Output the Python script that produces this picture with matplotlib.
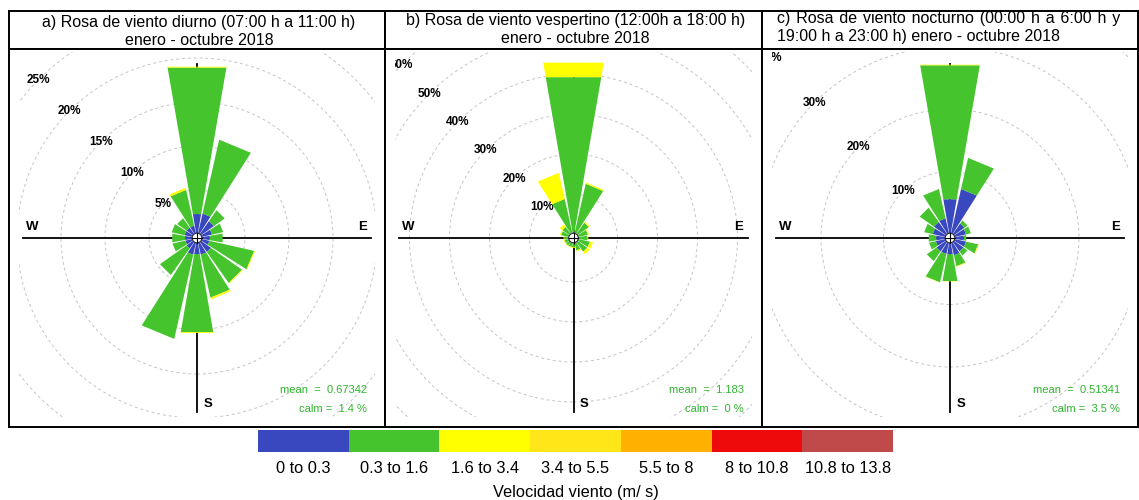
import numpy as np
import matplotlib
matplotlib.use("Agg")
import matplotlib.pyplot as plt
from matplotlib.patches import Circle, Polygon, Rectangle
from matplotlib.transforms import Bbox, TransformedBbox

plt.rcParams['font.family'] = ['Liberation Sans', 'DejaVu Sans']

W, H = 1139, 500

# 16 direction sectors, bearings clockwise from north
directions = ['N', 'NNE', 'NE', 'ENE', 'E', 'ESE', 'SE', 'SSE',
              'S', 'SSW', 'SW', 'WSW', 'W', 'WNW', 'NW', 'NNW']
bearings = np.arange(16) * 22.5

speed_bins = ['0 to 0.3', '0.3 to 1.6', '1.6 to 3.4', '3.4 to 5.5',
              '5.5 to 8', '8 to 10.8', '10.8 to 13.8']
bin_colors = ['#3A48C0', '#45C42E', '#FFFF00', '#FFE619',
              '#FFB000', '#EE0A0A', '#C04A4A']

# frequency (%) per direction for the three populated speed bins
a_b0 = [2.3, 2.4, 1.9, 1.3, 1.0, 1.0, 1.5, 1.5, 1.4, 1.5, 1.0, 0.9, 0.9, 1.0, 1.0, 1.0]
a_b1 = [16.9, 8.6, 1.5, 1.3, 1.5, 5.2, 4.3, 5.0, 9.0, 9.8, 3.7, 1.5, 1.5, 1.5, 1.3, 4.15]
a_b2 = [0.1, 0.0, 0.0, 0.0, 0.0, 0.1, 0.1, 0.2, 0.1, 0.0, 0.0, 0.0, 0.0, 0.0, 0.0, 0.25]

b_b0 = [0.4, 0.4, 0.3, 0.3, 0.3, 0.3, 0.3, 0.3, 0.3, 0.3, 0.3, 0.3, 0.3, 0.3, 0.3, 0.4]
b_b1 = [39.4, 12.5, 3.4, 2.4, 2.2, 2.9, 2.9, 1.9, 1.0, 1.0, 1.0, 1.0, 1.0, 1.9, 2.1, 8.6]
b_b2 = [3.7, 0.3, 0.3, 0.3, 0.25, 0.8, 0.8, 0.3, 0.2, 0.2, 0.2, 0.2, 0.2, 0.3, 0.8, 6.7]

c_b0 = [5.65, 7.4, 2.2, 2.0, 1.6, 2.0, 2.0, 2.2, 2.0, 2.0, 2.0, 1.7, 1.6, 2.2, 2.5, 2.6]
c_b1 = [21.75, 5.1, 0.6, 0.8, 0.4, 2.0, 0.8, 1.8, 4.35, 4.65, 1.9, 1.1, 1.2, 1.4, 2.8, 4.8]
c_b2 = [0.1, 0.0, 0.0, 0.0, 0.0, 0.1, 0.0, 0.1, 0.05, 0.05, 0.0, 0.0, 0.0, 0.0, 0.0, 0.0]

panels = [
    dict(box=(9, 385), title=['a) Rosa de viento diurno (07:00 h a 11:00 h)',
                              'enero - octubre 2018'], align='center', ty=(27, 45),
         freq=[a_b0, a_b1, a_b2], rings=[5, 10, 15, 20, 25], scale=8.8,
         mean='mean  =  0.67342', calm='calm =  1.4 %'),
    dict(box=(385, 762), title=['b) Rosa de viento vespertino (12:00h a 18:00 h)',
                                'enero - octubre 2018'], align='center', ty=(25.5, 43),
         freq=[b_b0, b_b1, b_b2], rings=[10, 20, 30, 40, 50, 60], scale=4.0,
         mean='mean  =  1.183', calm='calm =  0 %'),
    dict(box=(762, 1138), title=['c) Rosa de viento nocturno (00:00 h a 6:00 h y',
                                 '19:00 h a 23:00 h) enero - octubre 2018'], align='left',
         ty=(23.5, 41.5), freq=[c_b0, c_b1, c_b2], rings=[10, 20, 30, 40], scale=6.25,
         mean='mean  =  0.51341', calm='calm =  3.5 %'),
]

HEAD_TOP, HEAD_BOT, PLOT_BOT = 11, 49, 427
HOLE_PX = 4.0
HALF_WIDTH = 9.8
LABEL_BEARING = 315.0
CLIP_SIDE, CLIP_TOP = 10, 3
TEXT_GREEN = '#2DB52D'
TITLE_SIZE = 11.5
WIDE_GAP = ' \u200a'   # word gap used for the spread-out first title line

fig = plt.figure(figsize=(W / 100, H / 100), dpi=100)


def px_axes(x0, y0, x1, y1):
    return fig.add_axes([x0 / W, 1 - y1 / H, (x1 - x0) / W, (y1 - y0) / H])


def fig_text(x, y, s, **kw):
    return fig.text(x / W, 1 - y / H, s, **kw)


def xy(r, brg):
    t = np.deg2rad(brg)
    return r * np.sin(t), r * np.cos(t)


for p in panels:
    x0, x1 = p['box']
    # header box
    hx = px_axes(x0, HEAD_TOP, x1, HEAD_BOT)
    hx.set_xticks([]); hx.set_yticks([])
    for s in hx.spines.values():
        s.set_linewidth(1.4)
    if p['align'] == 'center':
        xc = (x0 + x1) / 2 + 2
        fig_text(xc, p['ty'][0], p['title'][0], ha='center', va='baseline', fontsize=TITLE_SIZE)
        fig_text(xc, p['ty'][1], p['title'][1], ha='center', va='baseline', fontsize=TITLE_SIZE)
    else:
        fig_text(x0 + 15, p['ty'][0], WIDE_GAP.join(p['title'][0].split(' ')),
                 ha='left', va='baseline', fontsize=TITLE_SIZE)
        fig_text(x0 + 15, p['ty'][1], p['title'][1], ha='left', va='baseline', fontsize=TITLE_SIZE)

    # rose panel in percent units
    ax = px_axes(x0, HEAD_BOT, x1, PLOT_BOT)
    k = p['scale']
    wpx, hpx = x1 - x0, PLOT_BOT - HEAD_BOT
    ax.set_xlim(-wpx / 2 / k, wpx / 2 / k)
    ax.set_ylim(-hpx / 2 / k, hpx / 2 / k)
    ax.set_xticks([]); ax.set_yticks([])
    for s in ax.spines.values():
        s.set_linewidth(1.4)
    off = HOLE_PX / k

    # inner drawing region used to clip the scale rings and their labels
    fx0, fx1 = CLIP_SIDE / wpx, 1 - CLIP_SIDE / wpx
    fy0, fy1 = CLIP_SIDE / hpx, 1 - CLIP_TOP / hpx
    clip = Rectangle((fx0, fy0), fx1 - fx0, fy1 - fy0, transform=ax.transAxes, visible=False)
    ax.add_patch(clip)
    clip_box = TransformedBbox(Bbox([[fx0, fy0], [fx1, fy1]]), ax.transAxes)

    for rv in p['rings']:
        ring = Circle((0, 0), off + rv, fill=False, ec='#C4C4C4', lw=0.7,
                      ls=(0, (3, 3)), zorder=1)
        ax.add_patch(ring)
        ring.set_clip_path(clip)
        lx, ly = xy(off + rv, LABEL_BEARING)
        t = ax.text(lx, ly, f'{rv}%', ha='center', va='center', fontsize=8.5,
                    fontweight='bold', zorder=2)
        t.set_clip_on(True)
        t.set_clip_box(clip_box)

    ax.axhline(0, xmin=0.037, xmax=0.963, color='black', lw=1.3, zorder=2)
    ax.axvline(0, ymin=0.04, ymax=0.96, color='black', lw=1.3, zorder=2)

    freq = np.array(p['freq'])
    cum = np.vstack([np.zeros(16), np.cumsum(freq, axis=0)])
    for i, brg in enumerate(bearings):
        for j in range(freq.shape[0]):
            if freq[j, i] <= 0:
                continue
            r_in, r_out = off + cum[j, i], off + cum[j + 1, i]
            pts = [xy(r_in, brg - HALF_WIDTH), xy(r_out, brg - HALF_WIDTH),
                   xy(r_out, brg + HALF_WIDTH), xy(r_in, brg + HALF_WIDTH)]
            ax.add_patch(Polygon(pts, closed=True, fc=bin_colors[j], ec='none', zorder=3))

    ax.add_patch(Circle((0, 0), off * 1.2, fc='white', ec='#333333', lw=0.8, zorder=4))
    ax.plot([-off * 1.2, off * 1.2], [0, 0], color='black', lw=0.8, zorder=5)
    ax.plot([0, 0], [-off * 1.2, off * 1.2], color='black', lw=0.8, zorder=5)

    ax.text(0.061, 0.528, 'W', transform=ax.transAxes, ha='center', va='center',
            fontsize=9.5, fontweight='bold')
    ax.text(0.939, 0.530, 'E', transform=ax.transAxes, ha='center', va='center',
            fontsize=9.5, fontweight='bold')
    ax.text(0.529, 0.060, 'S', transform=ax.transAxes, ha='center', va='center',
            fontsize=9.5, fontweight='bold')

    ax.text(0.952, 0.098, p['mean'], transform=ax.transAxes, ha='right', va='center',
            fontsize=8, color=TEXT_GREEN)
    ax.text(0.952, 0.048, p['calm'], transform=ax.transAxes, ha='right', va='center',
            fontsize=8, color=TEXT_GREEN)

# speed legend
lg = px_axes(258, 430, 893, 452)
for i, c in enumerate(bin_colors):
    lg.add_patch(Rectangle((i, 0), 1, 1, fc=c, ec='none'))
lg.set_xlim(0, len(bin_colors)); lg.set_ylim(0, 1)
lg.set_xticks([]); lg.set_yticks([])
for s in lg.spines.values():
    s.set_visible(False)
for i, lab in enumerate(speed_bins):
    lg.text(i + 0.5, -0.75, lab, ha='center', va='center', fontsize=11.8)
lg.text(3.5, -1.85, 'Velocidad viento (m/ s)', ha='center', va='center', fontsize=11.8)

fig.savefig('out.png', dpi=100)
